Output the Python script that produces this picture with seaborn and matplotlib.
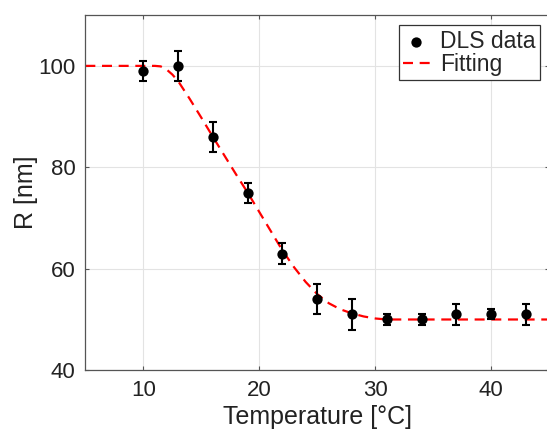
import numpy as np
import pandas as pd
import seaborn as sns
import matplotlib
matplotlib.use("Agg")
import matplotlib.pyplot as plt

# DATA
temps = [10, 13, 16, 19, 22, 25, 28, 31, 34, 37, 40, 43]
radius = [99, 100, 86, 75, 63, 54, 51, 50, 50, 51, 51, 51]
radius_err = [2, 3, 3, 2, 2, 3, 3, 1, 1, 2, 1, 2]

fit_t = [5, 8, 10, 11, 11.5, 12, 12.5, 13, 14, 15, 16, 17, 18, 19, 20, 21, 22,
         23, 24, 25, 26, 27, 28, 29, 30, 31, 35, 40, 45]
fit_r = [100, 100, 100, 100, 99.9, 99.3, 98.3, 97, 93.5, 89.8, 86, 82.3, 78.6,
         75, 71.2, 67.4, 63.6, 60.3, 57.4, 55, 53.2, 52, 51.2, 50.6, 50.2, 50,
         50, 50, 50]

x_ticks = [10, 20, 30, 40]
y_ticks = [40, 60, 80, 100]

df = pd.DataFrame({"T": temps, "R": radius, "err": radius_err})
df_fit = pd.DataFrame({"T": fit_t, "R": fit_r})

# PLOT SETTING
sns.set_theme(style="whitegrid")
plt.rcParams['font.family'] = ['Liberation Sans', 'DejaVu Sans']

fig = plt.figure(figsize=(5.47, 4.33), dpi=100)
ax = fig.add_axes([0.156, 0.145, 0.848, 0.82])
ax.set_facecolor("white")

# FIT LINE
sns.lineplot(x="T", y="R", data=df_fit, ax=ax, color="#ff0000", linewidth=1.6,
             label="Fitting", zorder=2)
ax.lines[-1].set_dashes((4.5, 3))

# DATA POINTS
ax.errorbar(df["T"], df["R"], yerr=df["err"], fmt="none", ecolor="black",
            elinewidth=1.5, capsize=3.2, capthick=1.5, zorder=3)
sns.scatterplot(x="T", y="R", data=df, ax=ax, color="black", s=55,
                edgecolor="black", linewidth=0, label="DLS data", zorder=4)

ax.set_xlim(5, 45)
ax.set_ylim(40, 110)
ax.set_xticks(x_ticks)
ax.set_yticks(y_ticks)
ax.grid(True, color="#e3e3e3", linewidth=0.8)
for s in ax.spines.values():
    s.set_color("#555555")
    s.set_linewidth(0.9)
    s.set_visible(True)
ax.tick_params(direction="in", length=3, width=0.8, color="#555555",
               top=True, right=True, bottom=True, left=True,
               labelsize=16, labelcolor="#222222", pad=7)

ax.set_xlabel("Temperature [°C]", fontsize=18, color="#222222", labelpad=3)
ax.set_ylabel("R [nm]", fontsize=18, color="#222222", labelpad=0)

handles, labels = ax.get_legend_handles_labels()
order = [labels.index("DLS data"), labels.index("Fitting")]
leg = ax.legend([handles[i] for i in order], [labels[i] for i in order],
                loc="upper right", bbox_to_anchor=(540 / 547, 1 - 25 / 433),
                bbox_transform=fig.transFigure,
                fontsize=16.5, frameon=True, fancybox=False, framealpha=1,
                edgecolor="#333333", handlelength=1.15, handletextpad=0.45,
                borderpad=0.2, labelspacing=0.0, borderaxespad=0)
leg.get_frame().set_linewidth(0.9)

plt.savefig("out.png", dpi=100)
plt.close()
